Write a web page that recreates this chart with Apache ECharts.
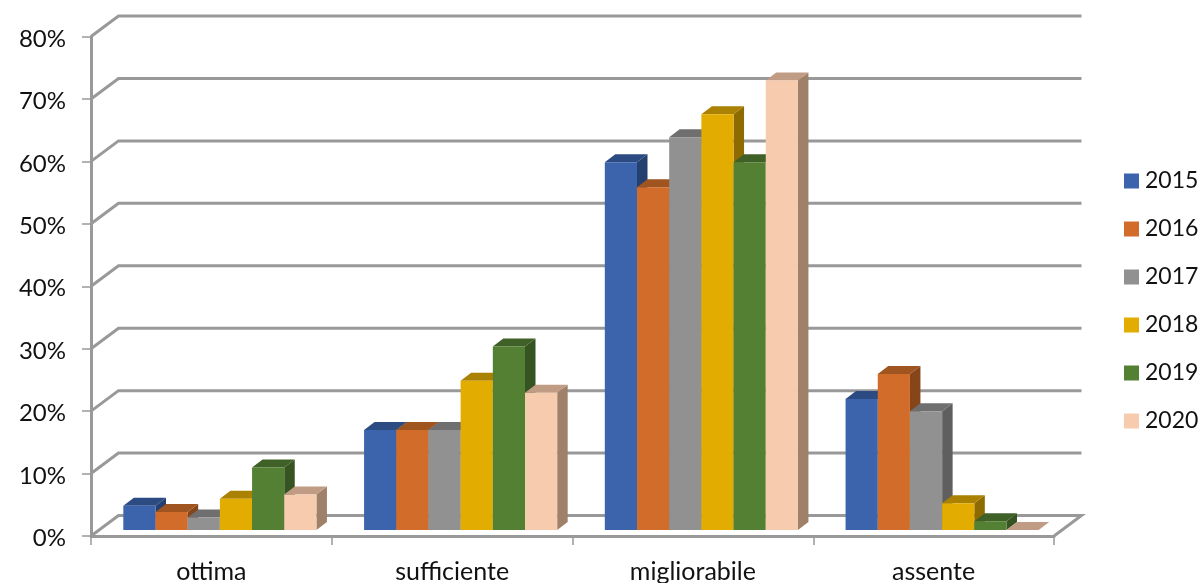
<!DOCTYPE html>
<html><head><meta charset="utf-8">
<style>html,body{margin:0;padding:0;background:#fff}#c{width:1202px;height:583px}</style>
<script src="https://cdn.jsdelivr.net/npm/echarts@6/dist/echarts.min.js"></script>
</head><body><div id="c"></div>
<script>
const categories = ['ottima','sufficiente','migliorabile','assente'];
const years = ['2015','2016','2017','2018','2019','2020'];
const v2015 = [3.9,16,58.9,21];
const v2016 = [2.9,16,54.9,25];
const v2017 = [2,16,62.9,19];
const v2018 = [5,23.9,66.6,4.3];
const v2019 = [10,29.4,58.9,1.4];
const v2020 = [5.7,22,72,0];
const yTicks = [0,10,20,30,40,50,60,70,80];
const values = [v2015,v2016,v2017,v2018,v2019,v2020];
const front = ['#3b64ad','#d26c2b','#919191','#e3ac00','#548034','#f7cbad'];
const top_  = ['#2b4b82','#a0541f','#6f6f6f','#aa8100','#3f6127','#c19c84'];
const side  = ['#253f6e','#87461a','#5f5f5f','#8d6b00','#365322','#9f8169'];
const WALL_DX = 27.5, WALL_DY = 20.5;
const BAR_OFF_X = 8.5, BAR_OFF_Y = 6, DEPTH_X = 10.5, DEPTH_Y = 8;
const LINE = '#999999';

function bar(s){
  return function(params, api){
    const c = api.value(0), v = api.value(1);
    const p = api.coord([c, v]), p0 = api.coord([c, 0]);
    const w = api.size([1,0])[0] / 7.48;
    const xL = p[0] + (s-3)*w + BAR_OFF_X, xR = xL + w;
    const yT = p[1] - BAR_OFF_Y, yB = p0[1] - BAR_OFF_Y;
    const children = [];
    if (yB - yT > 0.5) {
      children.push({type:'polygon',shape:{points:[[xR,yT],[xR+DEPTH_X,yT-DEPTH_Y],[xR+DEPTH_X,yB-DEPTH_Y],[xR,yB]]},style:{fill:side[s]}});
    }
    children.push({type:'polygon',shape:{points:[[xL,yT],[xL+DEPTH_X,yT-DEPTH_Y],[xR+DEPTH_X,yT-DEPTH_Y],[xR,yT]]},style:{fill:top_[s]}});
    if (yB - yT > 0.5) {
      children.push({type:'rect',shape:{x:xL,y:yT,width:w,height:yB-yT},style:{fill:front[s]}});
    }
    return {type:'group',children};
  };
}
function wall(params, api){
  const v = api.value(1), cs = params.coordSys;
  const y = api.coord([0,v])[1], xL = cs.x, xR = cs.x + cs.width;
  const pts = [[xL,y],[xL+WALL_DX,y-WALL_DY],[xR+WALL_DX,y-WALL_DY]];
  if (v === yTicks[0]) pts.push([xR,y]);
  return {type:'polyline',shape:{points:pts},style:{fill:'none',stroke:LINE,lineWidth:3}};
}
const series = [{
  type:'custom',name:'wall',silent:true,z:1,renderItem:wall,clip:false,
  encode:{x:0,y:1},data:yTicks.map(t=>[0,t])
}];
years.forEach((yr,s)=>series.push({
  type:'custom',name:yr,z:3,renderItem:bar(s),clip:false,
  itemStyle:{color:front[s]},encode:{x:0,y:1},
  data:values[s].map((v,i)=>[i,v])
}));
const font = 'Lato';
const chart = echarts.init(document.getElementById('c'),null,{renderer:'canvas'});
chart.setOption({
  animation:false,backgroundColor:'#fff',
  grid:{left:91,right:148,top:36.5,bottom:47,containLabel:false,outerBoundsMode:'none'},
  legend:{
    data:years,orient:'vertical',left:1119,top:161,icon:'rect',
    itemWidth:15,itemHeight:15,itemGap:18,selectedMode:false,
    textStyle:{fontFamily:font,fontSize:23,color:'#111',padding:[2,0,0,1],lineHeight:28}
  },
  xAxis:{type:'category',data:categories,boundaryGap:true,
    axisLine:{lineStyle:{color:LINE,width:3}},
    axisTick:{show:true,alignWithLabel:false,length:9,lineStyle:{color:LINE,width:1.5}},
    axisLabel:{fontFamily:font,fontSize:25,color:'#111',margin:21,padding:[2,0,0,0]},splitLine:{show:false}},
  yAxis:{type:'value',min:0,max:80,interval:10,
    axisLine:{show:true,lineStyle:{color:LINE,width:3}},
    axisTick:{show:true,length:9,lineStyle:{color:LINE,width:1.5}},
    axisLabel:{fontFamily:font,fontSize:24,color:'#111',margin:25,verticalAlign:'top',lineHeight:5,hideOverlap:false,formatter:'{value}%'},
    splitLine:{show:false}},
  series
});
</script></body></html>
